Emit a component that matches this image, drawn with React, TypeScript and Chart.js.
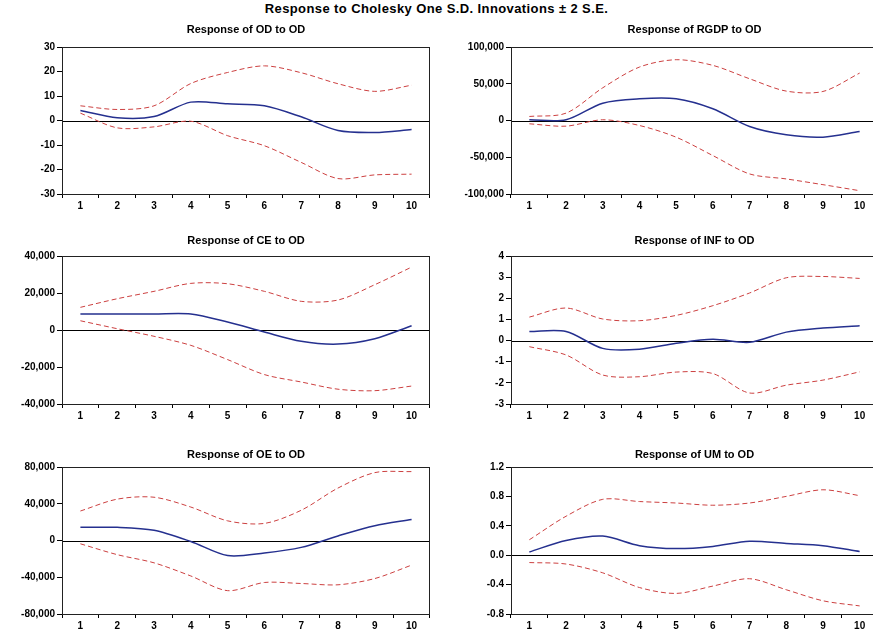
import React, { useEffect, useRef } from "react";
import { Chart, registerables } from "chart.js";

Chart.register(...registerables);

// ---------- data ----------
const periods = ["1", "2", "3", "4", "5", "6", "7", "8", "9", "10"];

const odResponse = [4.1, 1.1, 1.6, 7.5, 6.8, 6.0, 1.5, -4.1, -4.9, -3.7];
const odUpper = [6.0, 4.5, 6.0, 15.1, 19.6, 22.3, 19.5, 15.0, 11.9, 14.4];
const odLower = [3.0, -3.0, -2.6, -0.3, -6.2, -10.3, -17.1, -23.7, -22.2, -21.9];

const rgdpResponse = [1000, 1000, 23600, 29500, 29500, 15900, -8200, -19500, -22700, -15000];
const rgdpUpper = [5500, 10000, 44500, 72700, 82700, 75000, 56800, 40000, 39500, 64500];
const rgdpLower = [-4500, -7700, 1000, -6800, -22700, -47700, -72700, -79500, -87300, -95500];

const ceResponse = [8650, 8650, 8650, 8650, 4300, -1100, -6100, -7600, -4700, 2300];
const ceUpper = [12250, 16900, 20900, 25200, 25000, 20900, 15500, 16200, 24500, 34000];
const ceLower = [5000, 700, -3400, -8300, -16000, -24100, -28100, -32000, -32800, -30300];

const infResponse = [0.43, 0.43, -0.37, -0.41, -0.13, 0.06, -0.08, 0.4, 0.59, 0.7];
const infUpper = [1.11, 1.54, 1.02, 0.94, 1.19, 1.65, 2.25, 2.97, 3.03, 2.94];
const infLower = [-0.29, -0.68, -1.63, -1.71, -1.49, -1.56, -2.48, -2.11, -1.87, -1.48];

const oeResponse = [14300, 14300, 11100, -1100, -16400, -13600, -7500, 5000, 16100, 22900];
const oeUpper = [32100, 45000, 47100, 36400, 21400, 18600, 32900, 57100, 73900, 75000];
const oeLower = [-3600, -15400, -24300, -38600, -54600, -45700, -46800, -48200, -41400, -26800];

const umResponse = [0.044, 0.2, 0.26, 0.13, 0.09, 0.12, 0.19, 0.16, 0.13, 0.05];
const umUpper = [0.21, 0.53, 0.76, 0.73, 0.71, 0.68, 0.71, 0.8, 0.89, 0.81];
const umLower = [-0.1, -0.12, -0.24, -0.44, -0.52, -0.42, -0.32, -0.47, -0.62, -0.69];

const mainTitle = "Response to Cholesky One S.D. Innovations \u00b1 2 S.E.";

// ---------- layout / style ----------
const FONT = "'Liberation Sans', Arial, sans-serif";
const Y_W = 60;
const PAD_T = 26;
const X_H = 22;

const commaFmt = (v: number) => Number(v).toLocaleString("en-US");
const oneDec = (v: number) => Number(v).toFixed(1);
const intFmt = (v: number) => String(Math.round(Number(v)));

type PanelCfg = {
  title: string;
  response: number[];
  upper: number[];
  lower: number[];
  min: number;
  max: number;
  step: number;
  fmt: (v: number) => string;
  plotLeft: number;
  plotRight: number;
  plotTop: number;
  plotBottom: number;
  titleY: number;
};

const panels: PanelCfg[] = [
  { title: "Response of OD to OD", response: odResponse, upper: odUpper, lower: odLower, min: -30, max: 30, step: 10, fmt: intFmt, plotLeft: 62, plotRight: 430, plotTop: 47, plotBottom: 194, titleY: 30 },
  { title: "Response of RGDP to OD", response: rgdpResponse, upper: rgdpUpper, lower: rgdpLower, min: -100000, max: 100000, step: 50000, fmt: commaFmt, plotLeft: 511, plotRight: 878, plotTop: 47, plotBottom: 194, titleY: 30 },
  { title: "Response of CE to OD", response: ceResponse, upper: ceUpper, lower: ceLower, min: -40000, max: 40000, step: 20000, fmt: commaFmt, plotLeft: 62, plotRight: 430, plotTop: 256, plotBottom: 404, titleY: 241 },
  { title: "Response of INF to OD", response: infResponse, upper: infUpper, lower: infLower, min: -3, max: 4, step: 1, fmt: intFmt, plotLeft: 511, plotRight: 878, plotTop: 256, plotBottom: 404, titleY: 241 },
  { title: "Response of OE to OD", response: oeResponse, upper: oeUpper, lower: oeLower, min: -80000, max: 80000, step: 40000, fmt: commaFmt, plotLeft: 62, plotRight: 430, plotTop: 467, plotBottom: 614, titleY: 455 },
  { title: "Response of UM to OD", response: umResponse, upper: umUpper, lower: umLower, min: -0.8, max: 1.2, step: 0.4, fmt: oneDec, plotLeft: 511, plotRight: 878, plotTop: 467, plotBottom: 614, titleY: 455 },
];

function Panel({ cfg }: { cfg: PanelCfg }) {
  const ref = useRef<HTMLCanvasElement | null>(null);
  const left = cfg.plotLeft - Y_W;
  const top = cfg.plotTop - PAD_T;
  const width = cfg.plotRight - cfg.plotLeft + Y_W;
  const height = cfg.plotBottom - cfg.plotTop + PAD_T + X_H;

  useEffect(() => {
    if (!ref.current) return;
    const titleOffset = cfg.plotTop - cfg.titleY;
    const decor = {
      id: "eviewsDecor",
      beforeDatasetsDraw(chart: any) {
        const { ctx, chartArea } = chart;
        const y0 = chart.scales.y.getPixelForValue(0);
        ctx.save();
        ctx.strokeStyle = "#000";
        ctx.lineWidth = 1;
        ctx.beginPath();
        ctx.moveTo(chartArea.left, Math.round(y0) + 0.5);
        ctx.lineTo(chartArea.right, Math.round(y0) + 0.5);
        ctx.stroke();
        ctx.restore();
      },
      afterDatasetsDraw(chart: any) {
        const { ctx, chartArea } = chart;
        ctx.save();
        ctx.strokeStyle = "#222";
        ctx.lineWidth = 1;
        ctx.strokeRect(
          Math.round(chartArea.left) + 0.5,
          Math.round(chartArea.top) + 0.5,
          Math.round(chartArea.right - chartArea.left) - 1,
          Math.round(chartArea.bottom - chartArea.top)
        );
        ctx.restore();
      },
      afterDraw(chart: any) {
        const { ctx, chartArea } = chart;
        ctx.save();
        ctx.fillStyle = "#000";
        ctx.font = `bold 11px ${FONT}`;
        ctx.textAlign = "center";
        ctx.textBaseline = "middle";
        ctx.fillText(cfg.title, (chartArea.left + chartArea.right) / 2, chartArea.top - titleOffset);
        ctx.restore();
      },
    };

    const chart = new Chart(ref.current, {
      type: "line",
      data: {
        labels: periods,
        datasets: [
          {
            label: "Upper",
            data: cfg.upper,
            borderColor: "#cc4040",
            borderWidth: 1,
            borderDash: [5, 3],
            pointRadius: 0,
            tension: 0.3,
            fill: false,
          },
          {
            label: "Lower",
            data: cfg.lower,
            borderColor: "#cc4040",
            borderWidth: 1,
            borderDash: [5, 3],
            pointRadius: 0,
            tension: 0.3,
            fill: false,
          },
          {
            label: "Response",
            data: cfg.response,
            borderColor: "#25308f",
            borderWidth: 1.5,
            pointRadius: 0,
            tension: 0.3,
            fill: false,
          },
        ],
      },
      options: {
        animation: false,
        responsive: true,
        maintainAspectRatio: false,
        events: [],
        layout: { padding: { top: PAD_T, left: 0, right: 0, bottom: 0 } },
        plugins: {
          legend: { display: false },
          tooltip: { enabled: false },
          title: { display: false },
        },
        scales: {
          x: {
            type: "category",
            offset: true,
            grid: {
              display: true,
              drawOnChartArea: false,
              drawTicks: true,
              tickLength: 4,
              color: "#000",
              offset: true,
            },
            border: { display: true, color: "#000" },
            ticks: {
              color: "#000",
              font: { family: FONT, size: 10, weight: "bold" },
              padding: 2,
              maxRotation: 0,
              autoSkip: false,
            },
            afterFit: (s: any) => {
              s.height = X_H;
            },
          },
          y: {
            min: cfg.min,
            max: cfg.max,
            grid: {
              display: true,
              drawOnChartArea: false,
              drawTicks: true,
              tickLength: 5,
              color: "#000",
            },
            border: { display: true, color: "#000" },
            ticks: {
              stepSize: cfg.step,
              color: "#000",
              font: { family: FONT, size: 10, weight: "bold" },
              padding: 2,
              callback: (v: any) => cfg.fmt(Number(v)),
            },
            afterFit: (s: any) => {
              s.width = Y_W;
            },
          },
        },
      } as any,
      plugins: [decor as any],
    });
    return () => chart.destroy();
  }, [cfg]);

  return (
    <div style={{ position: "absolute", left, top, width, height }}>
      <canvas ref={ref} />
    </div>
  );
}

export default function App() {
  return (
    <div
      style={{
        position: "fixed",
        left: 0,
        top: 0,
        width: 873,
        height: 635,
        overflow: "hidden",
        background: "#fff",
      }}
    >
      <div
        style={{
          position: "absolute",
          left: 0,
          top: 2,
          width: 873,
          textAlign: "center",
          fontFamily: FONT,
          fontWeight: "bold",
          fontSize: 13,
          letterSpacing: "0.4px",
          lineHeight: "14px",
          color: "#000",
        }}
      >
        {mainTitle}
      </div>
      {panels.map((p) => (
        <Panel key={p.title} cfg={p} />
      ))}
    </div>
  );
}
